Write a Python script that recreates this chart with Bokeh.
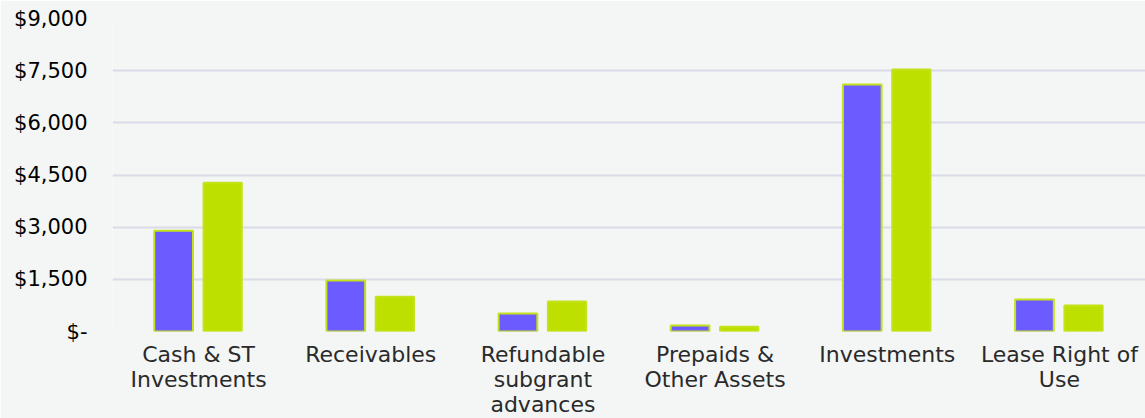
from bokeh.plotting import figure
from bokeh.models import ColumnDataSource, FixedTicker
from bokeh.transform import dodge
from bokeh.embed import file_html
from bokeh.resources import INLINE

categories = ["Cash & ST\nInvestments", "Receivables", "Refundable\nsubgrant\nadvances",
              "Prepaids &\nOther Assets", "Investments", "Lease Right of\nUse"]
prior_year = [2900, 1470, 520, 170, 7100, 920]
current_year = [4280, 1000, 860, 140, 7530, 750]
y_ticks = [0, 1500, 3000, 4500, 6000, 7500, 9000]
y_tick_labels = ["$-", "$1,500", "$3,000", "$4,500", "$6,000", "$7,500", "$9,000"]

BG = "#F3F6F5"
PURPLE = "#6C5CFF"
GREEN = "#BEE000"
OUTLINE = "#C4E21A"

src = ColumnDataSource(dict(cat=categories, prior=prior_year, current=current_year))

p = figure(x_range=categories, y_range=(0, 9000), frame_width=1033, frame_height=313,
           output_backend="svg", toolbar_location=None,
           min_border_left=112, min_border_right=0, min_border_top=18, min_border_bottom=80)
p.background_fill_color = BG
p.border_fill_color = BG
p.outline_line_color = None

p.vbar(x=dodge("cat", -0.145, range=p.x_range), top="prior", width=0.225, source=src,
       fill_color=PURPLE, line_color=OUTLINE, line_width=2)
p.vbar(x=dodge("cat", 0.14, range=p.x_range), top="current", width=0.222, source=src,
       fill_color=GREEN, line_color=OUTLINE, line_width=2)

p.xgrid.grid_line_color = None
p.ygrid.grid_line_color = "#DADAE8"
p.ygrid.grid_line_width = 2
p.yaxis.ticker = FixedTicker(ticks=y_ticks)
p.yaxis.major_label_overrides = {t: l for t, l in zip(y_ticks, y_tick_labels)}

for ax in (p.xaxis[0], p.yaxis[0]):
    ax.axis_line_color = None
    ax.major_tick_line_color = None
    ax.minor_tick_line_color = None
    ax.major_tick_out = 0
    ax.major_tick_in = 0

p.yaxis.major_label_text_font = "DejaVu Sans"
p.yaxis.major_label_text_font_size = "21px"
p.yaxis.major_label_text_color = "#000000"
p.yaxis.major_label_standoff = 25

p.xaxis.major_label_text_font = "DejaVu Sans"
p.xaxis.major_label_text_font_size = "22px"
p.xaxis.major_label_text_color = "#2A2A2A"
p.xaxis.major_label_standoff = 10
p.xaxis.major_label_text_line_height = 1.0

open("out.html", "w").write(file_html(p, INLINE))
